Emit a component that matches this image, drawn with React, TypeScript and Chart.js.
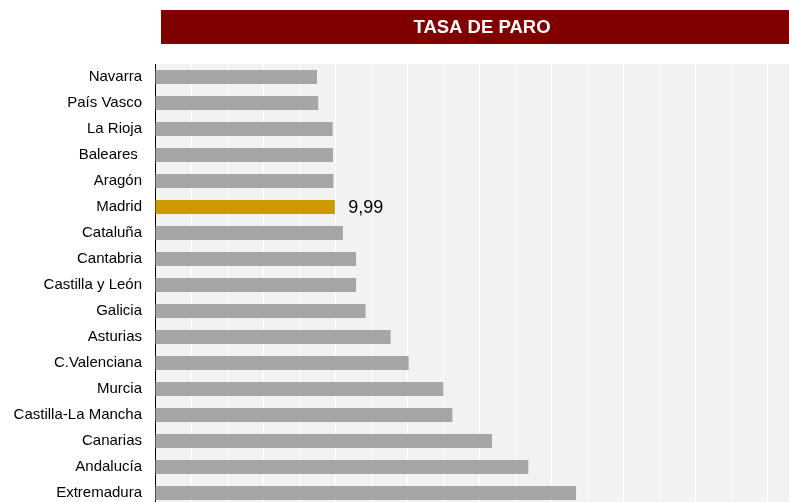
import React, { useEffect, useRef } from "react";
import { Chart, registerables } from "chart.js";

Chart.register(...registerables);

const TITLE = "TASA DE PARO";
const categories = [
  "Navarra",
  "País Vasco",
  "La Rioja",
  "Baleares ",
  "Aragón",
  "Madrid",
  "Cataluña",
  "Cantabria",
  "Castilla y León",
  "Galicia",
  "Asturias",
  "C.Valenciana",
  "Murcia",
  "Castilla-La Mancha",
  "Canarias",
  "Andalucía",
  "Extremadura",
];
const values = [
  9.0, 9.07, 9.87, 9.89, 9.91, 9.99, 10.44, 11.17, 11.17, 11.7, 13.09, 14.09,
  16.02, 16.52, 18.72, 20.74, 23.39,
];
const highlighted = "Madrid";
const axisMin = 0;
const axisMax = 36;
const axisStep = 2;

const FONT = "'Liberation Sans', Arial, sans-serif";
const CANVAS_W = 803;
const CANVAS_H = 510;

export default function App() {
  const ref = useRef<HTMLCanvasElement | null>(null);

  useEffect(() => {
    if (!ref.current) return;
    const colors = categories.map((c) => (c === highlighted ? "#CC9900" : "#A6A6A6"));

    const bgPlugin = {
      id: "bgPlugin",
      beforeDraw(chart: any) {
        const { ctx, chartArea } = chart;
        ctx.save();
        ctx.fillStyle = "#F2F2F2";
        ctx.fillRect(chartArea.left, chartArea.top, chartArea.right - chartArea.left, chartArea.bottom - chartArea.top);
        ctx.fillStyle = "#800000";
        ctx.fillRect(161, 10, 640, 34);
        ctx.fillStyle = "#FFFFFF";
        ctx.font = `bold 18.5px ${FONT}`;
        ctx.textAlign = "center";
        ctx.textBaseline = "middle";
        ctx.fillText(TITLE, 482, 27.5);
        ctx.restore();
      },
    };

    const labelPlugin = {
      id: "labelPlugin",
      afterDatasetsDraw(chart: any) {
        const { ctx } = chart;
        const meta = chart.getDatasetMeta(0);
        const idx = categories.indexOf(highlighted);
        if (idx < 0) return;
        const el = meta.data[idx];
        ctx.save();
        ctx.fillStyle = "#000000";
        ctx.font = `18px ${FONT}`;
        ctx.textAlign = "left";
        ctx.textBaseline = "middle";
        ctx.fillText(values[idx].toFixed(2).replace(".", ","), el.x + 13.5, el.y + 1);
        ctx.restore();
      },
    };

    const chart = new Chart(ref.current, {
      type: "bar",
      data: {
        labels: categories,
        datasets: [
          {
            data: values,
            backgroundColor: colors,
            borderWidth: 0,
            categoryPercentage: 1,
            barPercentage: 14 / 26,
          },
        ],
      },
      options: {
        indexAxis: "y",
        animation: false,
        responsive: false,
        maintainAspectRatio: false,
        layout: { padding: { top: 64, left: 0, right: 0, bottom: 4 } },
        plugins: {
          legend: { display: false },
          title: { display: false },
          tooltip: { enabled: false },
        },
        scales: {
          x: {
            min: axisMin,
            max: axisMax,
            ticks: { display: false, stepSize: axisStep },
            grid: { color: "#FFFFFF", lineWidth: 1, drawTicks: false },
            border: { display: false },
            afterFit(scale: any) {
              scale.height = 0;
              scale.paddingLeft = 0;
              scale.paddingRight = 0;
            },
          },
          y: {
            grid: { display: false, drawTicks: false },
            border: { display: true, color: "#000000", width: 1 },
            ticks: {
              color: "#000000",
              font: { family: FONT, size: 15 },
              padding: 13,
            },
            afterFit(scale: any) {
              scale.width = 155;
              scale.paddingTop = 0;
              scale.paddingBottom = 0;
            },
          },
        },
      },
      plugins: [bgPlugin, labelPlugin],
    } as any);

    return () => chart.destroy();
  }, []);

  return (
    <div
      style={{
        position: "fixed",
        left: 0,
        top: 0,
        width: 789,
        height: 502,
        overflow: "hidden",
        background: "#FFFFFF",
      }}
    >
      <canvas
        ref={ref}
        width={CANVAS_W}
        height={CANVAS_H}
        style={{ display: "block", width: CANVAS_W, height: CANVAS_H }}
      />
    </div>
  );
}
